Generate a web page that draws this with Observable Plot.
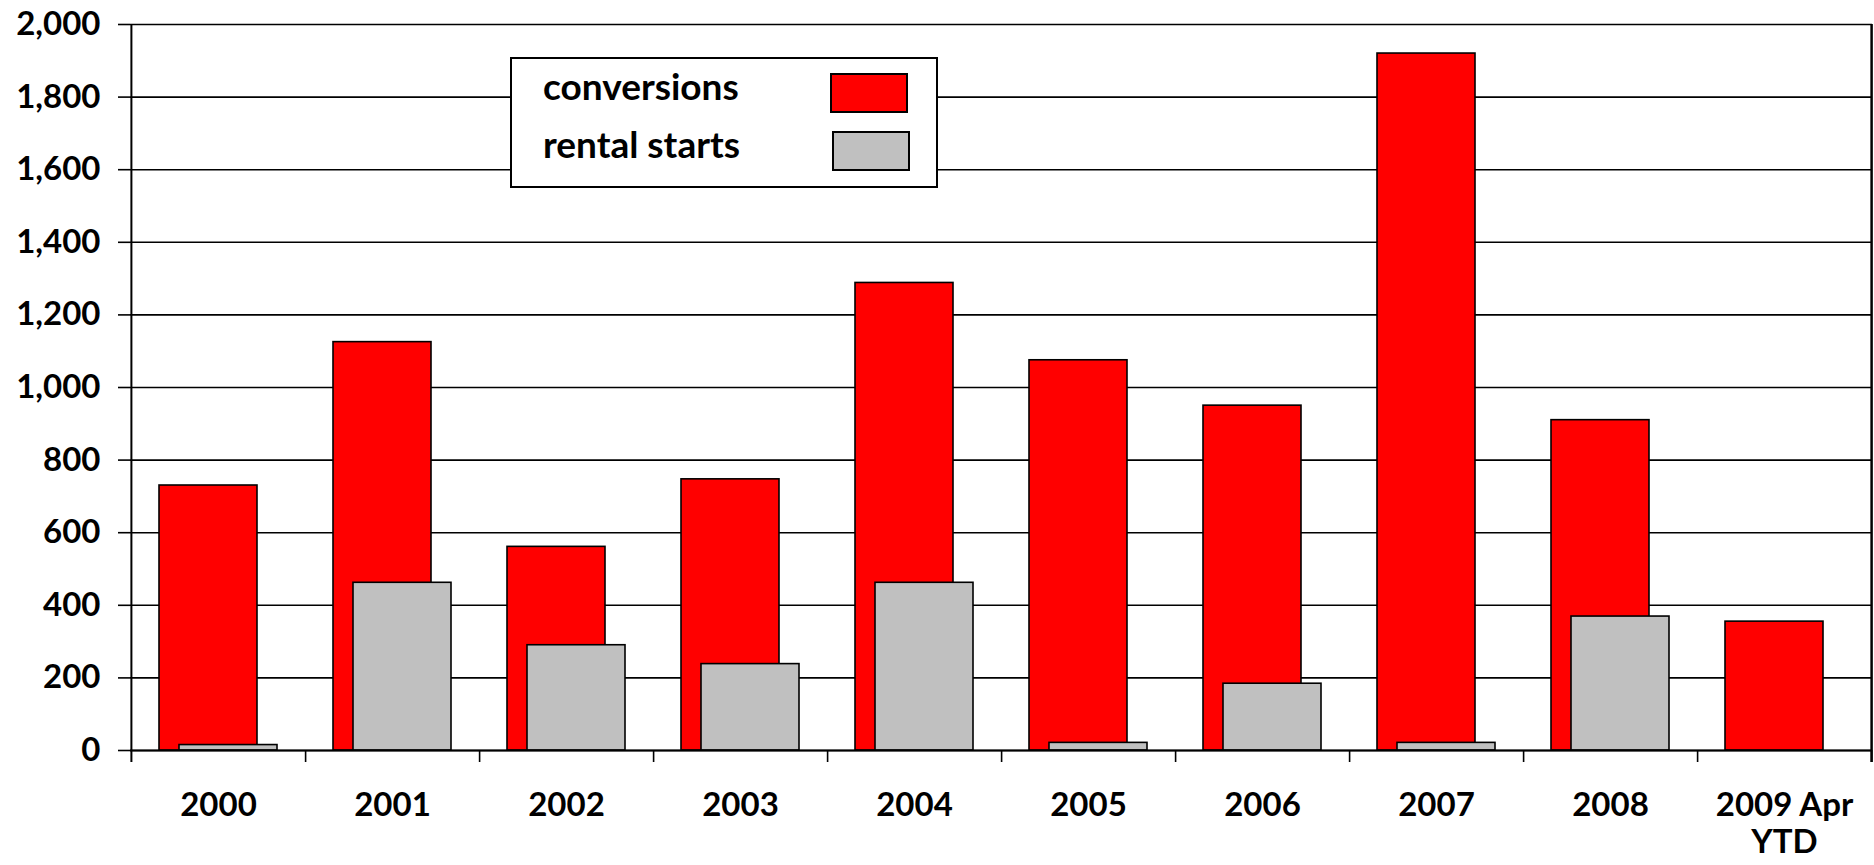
<!DOCTYPE html>
<html><head><meta charset="utf-8">
<script src="https://cdn.jsdelivr.net/npm/d3@7"></script>
<script src="https://cdn.jsdelivr.net/npm/@observablehq/plot@0.6"></script>
<style>
html,body{margin:0;padding:0;background:#fff;}
#wrap{position:relative;width:1874px;height:865px;overflow:hidden;}
#legend{position:absolute;left:0;top:0;pointer-events:none;}
</style></head><body><div id="wrap"></div>
<script>
const categories = ["2000","2001","2002","2003","2004","2005","2006","2007","2008","2009 Apr YTD"];
const conversions = [730,1125,561,747,1288,1075,950,1920,910,355];
const rentalStarts = [15,462,290,238,462,21,184,21,369,null];
const yTicks = [0,200,400,600,800,1000,1200,1400,1600,1800,2000];
const seriesNames = ["conversions","rental starts"];
const seriesColors = ["#ff0000","#c0c0c0"];

const W = 1874, H = 865, mL = 130, mR = 2, mT = 24, mB = 115;
const FONT = "Lato, 'Open Sans', sans-serif";
const step = (W - mL - mR) / categories.length;
const barW = 98;
const pInner = 1 - barW / step;

const convData = categories.map((c, i) => ({category: c, value: conversions[i]}));
const rentData = categories.map((c, i) => ({category: c, value: rentalStarts[i]})).filter(d => d.value != null);

const chart = Plot.plot({
  width: W, height: H,
  marginLeft: mL, marginRight: mR, marginTop: mT, marginBottom: mB,
  style: {fontFamily: FONT, fontWeight: "bold", fontSize: "33px", color: "#000", background: "#fff", overflow: "visible"},
  x: {type: "band", domain: categories, paddingInner: pInner, paddingOuter: pInner / 2, align: 0.5},
  y: {domain: [0, 2000]},
  marks: [
    Plot.ruleY(yTicks, {stroke: "#000", strokeWidth: 1.6}),
    Plot.axisY({ticks: yTicks, tickSize: 12, tickPadding: 18, tickFormat: d3.format(","), stroke: "#000", strokeWidth: 1.6, fontSize: 33, fontWeight: "bold", label: null}),
    Plot.barY(convData, {x: "category", y: "value", fill: seriesColors[0], stroke: "#000", strokeWidth: 1.6, dx: -10}),
    Plot.barY(rentData, {x: "category", y: "value", fill: seriesColors[1], stroke: "#000", strokeWidth: 1.6, dx: 10}),
    Plot.ruleX([categories[0]], {dx: -step / 2, stroke: "#000", strokeWidth: 2, insetBottom: -12}),
    Plot.ruleX([categories[categories.length - 1]], {dx: step / 2, stroke: "#000", strokeWidth: 2.5, insetBottom: -12}),
    Plot.ruleY([0], {stroke: "#000", strokeWidth: 2}),
    Plot.axisX({tickSize: 12, dx: step / 2, tickFormat: () => "", stroke: "#000", strokeWidth: 1.6, label: null}),
    Plot.axisX({tickSize: 0, tickPadding: 39, tickFormat: d => d.replace(" YTD", "\nYTD"), lineHeight: 1.12, fontSize: 33, fontWeight: "bold", label: null})
  ]
});

const wrap = document.getElementById("wrap");
wrap.appendChild(chart);

// legend overlay
const ns = "http://www.w3.org/2000/svg";
const lg = document.createElementNS(ns, "svg");
lg.setAttribute("id", "legend");
lg.setAttribute("width", W);
lg.setAttribute("height", H);
const box = {x: 511, y: 58, w: 426, h: 129};
function el(tag, attrs, text) {
  const e = document.createElementNS(ns, tag);
  for (const k in attrs) e.setAttribute(k, attrs[k]);
  if (text != null) e.textContent = text;
  lg.appendChild(e);
  return e;
}
el("rect", {x: box.x, y: box.y, width: box.w, height: box.h, fill: "#fff", stroke: "#000", "stroke-width": 2});
const rows = [{ty: 100, sx: 831, sy: 74}, {ty: 158, sx: 833, sy: 132}];
seriesNames.forEach((name, i) => {
  el("text", {x: 543, y: rows[i].ty, "font-family": FONT, "font-weight": "bold", "font-size": 37, fill: "#000"}, name);
  el("rect", {x: rows[i].sx, y: rows[i].sy, width: 76, height: 38, fill: seriesColors[i], stroke: "#000", "stroke-width": 2});
});
wrap.appendChild(lg);
</script></body></html>
